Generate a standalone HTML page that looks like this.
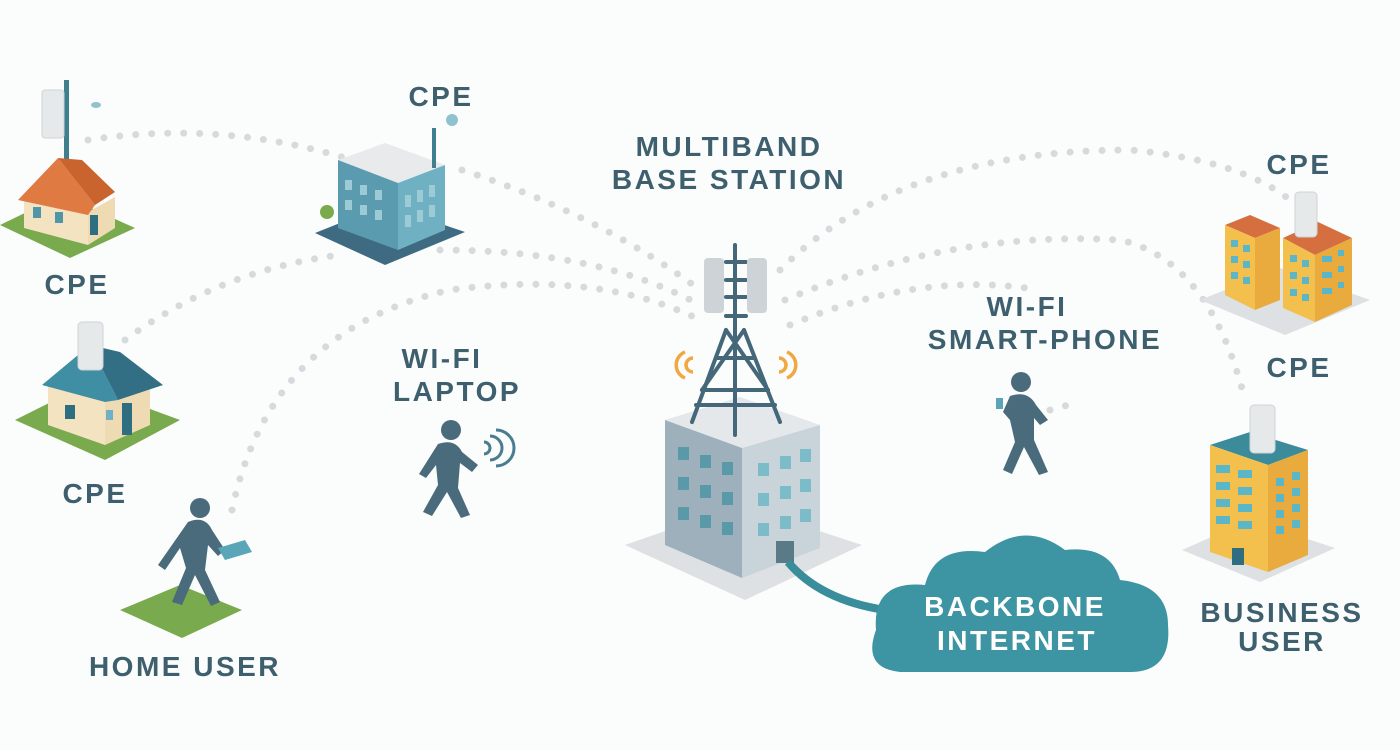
<!DOCTYPE html>
<html><head><meta charset="utf-8"><style>
html,body{margin:0;padding:0;background:#fbfcfc}
svg{display:block}
text{font-family:"Liberation Sans",sans-serif;font-weight:bold;fill:#3e5f6e;font-size:28px;letter-spacing:2.5px;text-anchor:middle}
.d{fill:none;stroke:#d6dadc;stroke-width:7;stroke-linecap:round;stroke-dasharray:0 16}
.p{fill:#4a6b7b}
</style></head><body>
<svg width="1400" height="750" viewBox="0 0 1400 750" xmlns="http://www.w3.org/2000/svg">
<rect width="1400" height="750" fill="#fbfcfc"/>
<path class="d" d="M88,140 Q220,120 345,158"/>
<path class="d" d="M462,170 Q600,215 700,290"/>
<path class="d" d="M125,340 Q220,270 340,255"/>
<path class="d" d="M440,250 Q600,250 700,305"/>
<path class="d" d="M232,510 Q270,330 450,290 Q600,270 700,320"/>
<path class="d" d="M780,270 Q900,150 1130,150 Q1240,160 1290,200"/>
<path class="d" d="M785,300 Q950,230 1120,240 Q1210,260 1245,400"/>
<path class="d" d="M790,325 Q920,270 1040,290"/>
<path class="d" d="M1050,410 L1068,405"/>
<polygon points="0,225 62,195 135,228 70,258" fill="#7aaa4e"/>
<rect x="64" y="80" width="5" height="85" fill="#3f7f8e"/>
<rect x="42" y="90" width="22" height="48" rx="3" fill="#e6e9ea" stroke="#cfd4d6"/>
<polygon points="24,196 88,212 88,245 24,228" fill="#f3e3c0"/>
<polygon points="88,212 115,197 115,228 88,245" fill="#eedbb4"/>
<polygon points="18,200 58,158 95,205 88,215" fill="#e07a43"/>
<polygon points="58,158 82,160 115,192 95,205" fill="#c9642f"/>
<rect x="33" y="207" width="8" height="11" fill="#4f96a6"/><rect x="55" y="212" width="8" height="11" fill="#4f96a6"/>
<rect x="90" y="215" width="8" height="20" fill="#2f6e80"/>
<ellipse cx="96" cy="105" rx="5" ry="3" fill="#8fc2cf"/>
<polygon points="315,233 385,205 465,232 385,265" fill="#3f6b82"/>
<polygon points="338,160 385,143 445,165 398,183" fill="#e8eaeb"/>
<polygon points="338,160 398,183 398,250 338,228" fill="#5a9bb0"/>
<polygon points="398,183 445,165 445,230 398,250" fill="#6fb1c2"/>
<rect x="432" y="128" width="4" height="40" fill="#3f7f8e"/>
<circle cx="452" cy="120" r="6" fill="#8fc2cf"/>
<circle cx="327" cy="212" r="7" fill="#7aaa4e"/>
<g fill="#9ccad5"><rect x="345" y="180" width="7" height="10"/><rect x="360" y="185" width="7" height="10"/><rect x="375" y="190" width="7" height="10"/><rect x="345" y="200" width="7" height="10"/><rect x="360" y="205" width="7" height="10"/><rect x="375" y="210" width="7" height="10"/><rect x="405" y="195" width="6" height="12"/><rect x="417" y="190" width="6" height="12"/><rect x="429" y="185" width="6" height="12"/><rect x="405" y="215" width="6" height="12"/><rect x="417" y="210" width="6" height="12"/><rect x="429" y="205" width="6" height="12"/></g>
<polygon points="15,420 85,385 180,420 105,460" fill="#7aaa4e"/>
<polygon points="48,382 105,398 105,445 48,425" fill="#f3e3c0"/>
<polygon points="105,398 150,385 150,425 105,445" fill="#eedbb4"/>
<polygon points="42,385 90,345 118,400 105,402" fill="#3f8ea3"/>
<polygon points="90,345 120,352 163,385 118,400" fill="#336f84"/>
<rect x="78" y="322" width="25" height="48" rx="4" fill="#e6e9ea" stroke="#cfd4d6"/>
<rect x="65" y="405" width="10" height="14" fill="#2f6e80"/><rect x="106" y="410" width="7" height="10" fill="#6fb1c2"/><rect x="122" y="403" width="10" height="32" fill="#2f6e80"/>
<polygon points="120,610 180,585 242,610 182,638" fill="#7aaa4e"/>
<circle class="p" cx="200" cy="508" r="10"/>
<path class="p" d="M188,522 Q205,515 212,530 L225,550 L218,556 L208,545 L205,570 L220,602 L211,606 L195,575 L182,605 L172,602 L186,568 L180,548 L165,570 L158,565 Z"/>
<polygon points="218,548 245,540 252,552 225,560" fill="#5aa6b8"/>
<circle class="p" cx="451" cy="430" r="10"/>
<path class="p" d="M438,444 Q455,438 462,452 L478,465 L472,472 L460,463 L458,488 L470,515 L461,518 L447,492 L432,516 L423,512 L438,485 L436,465 L426,478 L419,474 Z"/>
<path d="M484,442 a6,6 0 0 1 0,12 M490,436 a12,12 0 0 1 0,24 M496,430 a18,18 0 0 1 0,36" fill="none" stroke="#4a7d8e" stroke-width="3"/>
<polygon points="625,545 740,505 862,545 745,600" fill="#dde1e3"/>
<polygon points="665,420 740,397 820,425 742,448" fill="#e4e8ea"/>
<polygon points="665,420 742,448 742,578 665,545" fill="#9fb0bd"/>
<polygon points="742,448 820,425 820,548 742,578" fill="#c9d3da"/>
<g fill="#5a9aa8"><rect x="678" y="447" width="11" height="13"/><rect x="700" y="455" width="11" height="13"/><rect x="722" y="462" width="11" height="13"/><rect x="678" y="477" width="11" height="13"/><rect x="700" y="485" width="11" height="13"/><rect x="722" y="492" width="11" height="13"/><rect x="678" y="507" width="11" height="13"/><rect x="700" y="515" width="11" height="13"/><rect x="722" y="522" width="11" height="13"/></g>
<g fill="#7cbcc8"><rect x="758" y="463" width="11" height="13"/><rect x="780" y="456" width="11" height="13"/><rect x="800" y="449" width="11" height="13"/><rect x="758" y="493" width="11" height="13"/><rect x="780" y="486" width="11" height="13"/><rect x="800" y="479" width="11" height="13"/><rect x="758" y="523" width="11" height="13"/><rect x="780" y="516" width="11" height="13"/><rect x="800" y="509" width="11" height="13"/></g>
<rect x="776" y="541" width="18" height="22" fill="#5b7a88"/>
<path d="M788,562 Q820,600 885,610" fill="none" stroke="#3a8d9b" stroke-width="8"/>
<g stroke="#44687a" stroke-width="4" fill="none" stroke-linecap="round">
<line x1="735" y1="245" x2="735" y2="435"/>
<line x1="726" y1="330" x2="692" y2="422"/><line x1="744" y1="330" x2="780" y2="422"/>
<line x1="726" y1="262" x2="746" y2="262"/><line x1="726" y1="280" x2="746" y2="280"/><line x1="726" y1="297" x2="746" y2="297"/><line x1="726" y1="316" x2="746" y2="316"/>
<line x1="726" y1="330" x2="768" y2="390"/><line x1="744" y1="330" x2="702" y2="390"/>
<line x1="702" y1="390" x2="768" y2="390"/><line x1="716" y1="358" x2="754" y2="358"/>
<line x1="696" y1="405" x2="775" y2="405"/>
</g>
<rect x="704" y="258" width="20" height="55" rx="4" fill="#cdd3d7"/><rect x="747" y="258" width="20" height="55" rx="4" fill="#cdd3d7"/>
<path d="M685,352 a14,14 0 0 0 0,26 M693,358 a7,7 0 0 0 0,14 M787,352 a14,14 0 0 1 0,26 M779,358 a7,7 0 0 1 0,14" fill="none" stroke="#f1a843" stroke-width="3.5"/>
<path d="M900,672 Q862,668 876,630 Q872,580 925,585 Q935,545 985,552 Q1025,520 1065,550 Q1110,545 1120,580 Q1168,585 1168,625 Q1172,672 1130,672 Z" fill="#3d94a2"/>
<text x="1015" y="616" style="fill:#fff">BACKBONE</text>
<text x="1017" y="650" style="fill:#fff">INTERNET</text>
<circle class="p" cx="1021" cy="382" r="10"/>
<path class="p" d="M1010,396 Q1028,390 1036,405 L1048,420 L1040,425 L1034,418 L1034,440 L1048,472 L1039,475 L1024,447 L1012,474 L1003,470 L1015,442 L1010,420 L1003,412 Z"/>
<rect x="996" y="398" width="7" height="11" fill="#5aa6b8"/>
<polygon points="1200,300 1280,268 1370,300 1285,335" fill="#dde1e3"/>
<polygon points="1225,225 1250,215 1280,228 1255,238" fill="#d66f3f"/>
<polygon points="1225,225 1255,238 1255,310 1225,295" fill="#f3c04e"/>
<polygon points="1255,238 1280,228 1280,300 1255,310" fill="#e9aa3e"/>
<polygon points="1283,238 1318,222 1352,238 1315,255" fill="#d66f3f"/>
<polygon points="1283,238 1315,255 1315,322 1283,308" fill="#f3c04e"/>
<polygon points="1315,255 1352,238 1352,305 1315,322" fill="#e9aa3e"/>
<rect x="1295" y="192" width="22" height="45" rx="4" fill="#e6e9ea" stroke="#cfd4d6"/>
<g fill="#5bb6c8"><rect x="1231" y="240" width="7" height="7"/><rect x="1243" y="245" width="7" height="7"/><rect x="1231" y="256" width="7" height="7"/><rect x="1243" y="261" width="7" height="7"/><rect x="1231" y="272" width="7" height="7"/><rect x="1243" y="277" width="7" height="7"/><rect x="1290" y="255" width="7" height="7"/><rect x="1302" y="260" width="7" height="7"/><rect x="1290" y="272" width="7" height="7"/><rect x="1302" y="277" width="7" height="7"/><rect x="1290" y="289" width="7" height="7"/><rect x="1302" y="294" width="7" height="7"/><rect x="1322" y="256" width="10" height="6"/><rect x="1338" y="250" width="6" height="6"/><rect x="1322" y="272" width="10" height="6"/><rect x="1338" y="266" width="6" height="6"/><rect x="1322" y="288" width="10" height="6"/><rect x="1338" y="282" width="6" height="6"/></g>
<polygon points="1182,550 1250,520 1335,548 1260,582" fill="#dde1e3"/>
<polygon points="1210,445 1250,432 1308,450 1268,465" fill="#3b8b9b"/>
<polygon points="1210,445 1268,465 1268,572 1210,552" fill="#f3c04e"/>
<polygon points="1268,465 1308,450 1308,555 1268,572" fill="#e9aa3e"/>
<rect x="1250" y="405" width="25" height="48" rx="4" fill="#e6e9ea" stroke="#cfd4d6"/>
<g fill="#5bb6c8"><rect x="1216" y="465" width="14" height="8"/><rect x="1238" y="470" width="14" height="8"/><rect x="1216" y="482" width="14" height="8"/><rect x="1238" y="487" width="14" height="8"/><rect x="1216" y="499" width="14" height="8"/><rect x="1238" y="504" width="14" height="8"/><rect x="1216" y="516" width="14" height="8"/><rect x="1238" y="521" width="14" height="8"/><rect x="1276" y="478" width="8" height="8"/><rect x="1292" y="472" width="8" height="8"/><rect x="1276" y="494" width="8" height="8"/><rect x="1292" y="488" width="8" height="8"/><rect x="1276" y="510" width="8" height="8"/><rect x="1292" y="504" width="8" height="8"/><rect x="1276" y="526" width="8" height="8"/><rect x="1292" y="520" width="8" height="8"/></g>
<rect x="1232" y="548" width="12" height="17" fill="#2f6e80"/>
<text x="441" y="106">CPE</text>
<text x="729" y="156">MULTIBAND</text>
<text x="729" y="189">BASE STATION</text>
<text x="77" y="294">CPE</text>
<text x="95" y="503">CPE</text>
<text x="442" y="368">WI-FI</text>
<text x="457" y="401">LAPTOP</text>
<text x="1027" y="316">WI-FI</text>
<text x="1045" y="349">SMART-PHONE</text>
<text x="1299" y="174">CPE</text>
<text x="1299" y="377">CPE</text>
<text x="185" y="676">HOME USER</text>
<text x="1282" y="622">BUSINESS</text>
<text x="1282" y="651">USER</text>
</svg>
</body></html>
